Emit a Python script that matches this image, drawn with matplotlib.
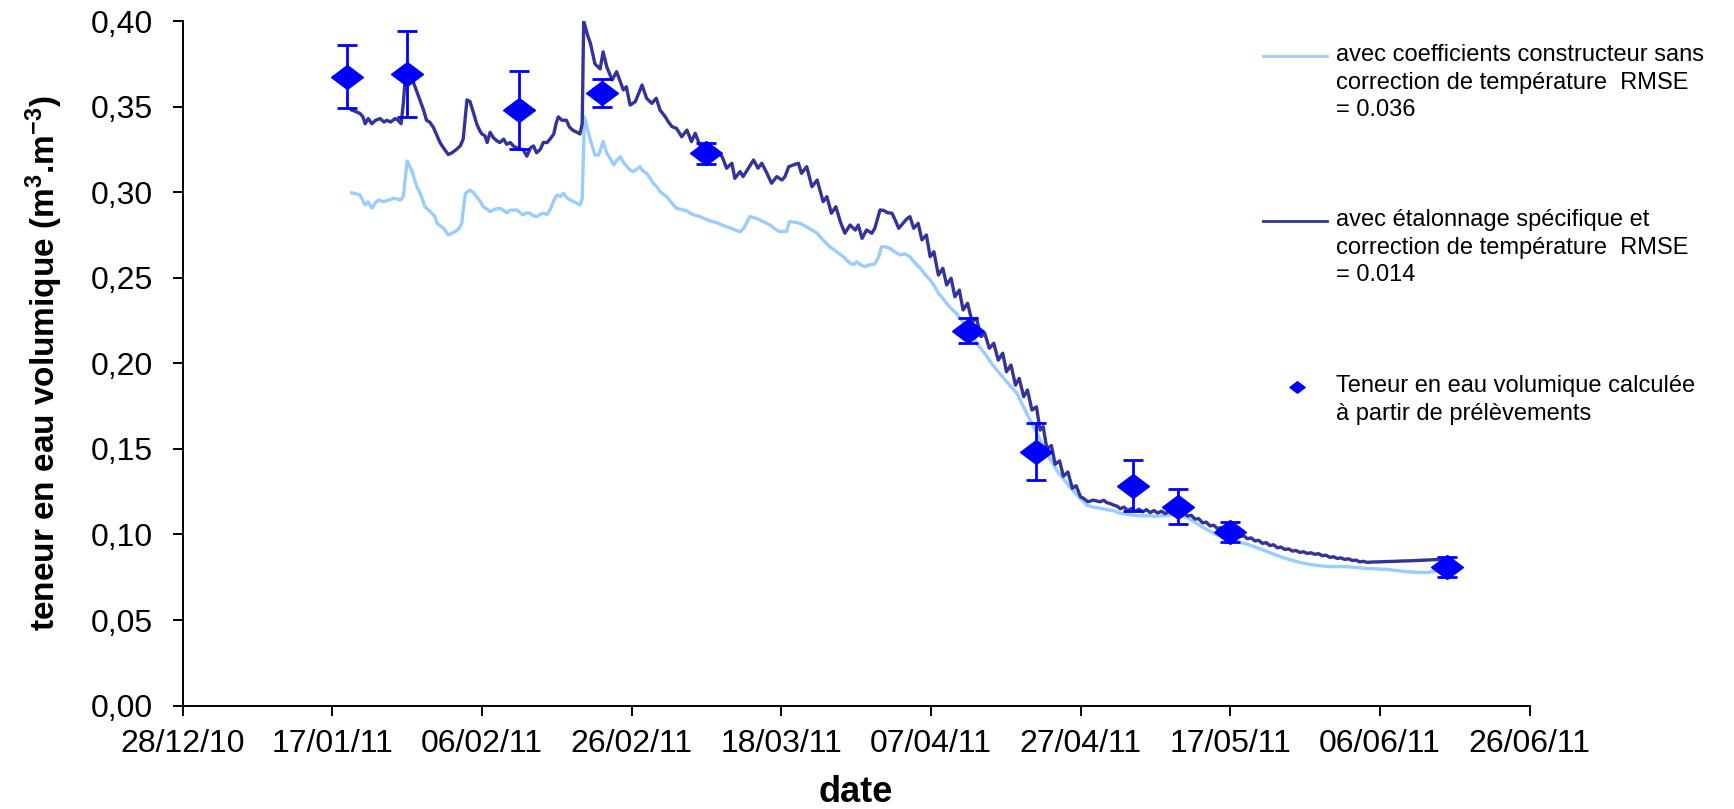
import matplotlib
matplotlib.use("Agg")
import matplotlib.pyplot as plt
import matplotlib.dates as mdates
from matplotlib.lines import Line2D
from matplotlib.ticker import FuncFormatter, FixedLocator
from datetime import datetime
import numpy as np

plt.rcParams['font.family'] = ['Liberation Sans', 'DejaVu Sans']
plt.rcParams['mathtext.fontset'] = 'custom'
plt.rcParams['mathtext.rm'] = 'Liberation Sans'
plt.rcParams['mathtext.bf'] = 'Liberation Sans:bold'

# origine de l'axe des dates
DEBUT = datetime(2010, 12, 28)

# sonde avec coefficients constructeur, sans correction de temperature
# (jours depuis le 28/12/2010, teneur en eau m3/m3)
constructeur = [
    (22.6, .2997), (23.2, .2990), (23.7, .2983), (24.1, .2950), (24.4, .2925),
    (24.8, .2944), (25.3, .2906), (25.8, .2940), (26.2, .2954), (26.8, .2945),
    (27.3, .2950), (27.8, .2958), (28.2, .2964), (28.7, .2960), (29.1, .2954),
    (29.5, .2974), (30.0, .3182), (30.6, .3130), (31.3, .3032), (31.8, .2990),
    (32.4, .2915), (33.3, .2877), (33.7, .2860), (34.0, .2818), (34.9, .2789),
    (35.5, .2750), (36.0, .2760), (36.4, .2769), (36.9, .2785), (37.3, .2818),
    (37.6, .2930), (37.8, .2993), (38.4, .3013), (38.9, .2995), (39.3, .2974),
    (39.8, .2945), (40.2, .2915), (40.7, .2900), (41.1, .2886), (41.7, .2900),
    (42.4, .2906), (42.9, .2892), (43.3, .2880), (43.8, .2895), (44.7, .2896),
    (45.1, .2880), (45.5, .2867), (46.0, .2880), (46.4, .2877), (46.9, .2862),
    (47.3, .2857), (47.8, .2870), (48.2, .2877), (48.7, .2870), (49.1, .2896),
    (49.6, .2950), (50.0, .2983), (50.5, .2975), (50.9, .2993), (51.3, .2970),
    (51.8, .2954), (52.5, .2940), (53.1, .2925), (53.4, .2960), (53.7, .3441),
    (54.1, .3370), (54.5, .3304), (55.1, .3217), (55.6, .3217), (56.2, .3295),
    (56.7, .3227), (57.1, .3200), (57.6, .3159), (58.0, .3185), (58.5, .3207),
    (58.9, .3175), (59.4, .3149), (59.8, .3130), (60.2, .3120), (60.7, .3135),
    (61.1, .3149), (61.5, .3125), (62.0, .3110), (62.5, .3080), (62.9, .3052),
    (63.4, .3030), (63.8, .3003), (64.2, .2990), (64.7, .2974), (65.3, .2940),
    (66.0, .2906), (66.6, .2900), (67.4, .2890), (67.8, .2877), (68.5, .2865),
    (69.2, .2857), (70.1, .2838), (70.9, .2828), (71.5, .2820), (72.1, .2808),
    (72.7, .2798), (73.3, .2790), (73.9, .2778), (74.5, .2769), (75.0, .2790),
    (75.8, .2857), (76.7, .2847), (77.5, .2830), (78.5, .2808), (79.2, .2785),
    (79.8, .2769), (80.3, .2772), (80.7, .2769), (81.1, .2828), (81.8, .2825),
    (82.5, .2818), (83.5, .2795), (84.8, .2760), (85.6, .2720), (86.5, .2681),
    (87.4, .2652), (88.3, .2623), (89.2, .2584), (89.7, .2578), (90.1, .2594),
    (90.6, .2575), (91.2, .2565), (91.8, .2575), (92.5, .2580), (93.0, .2620),
    (93.4, .2681), (94.0, .2680), (94.5, .2672), (95.2, .2650), (95.9, .2633),
    (96.5, .2640), (97.2, .2623), (97.8, .2590), (98.6, .2555), (99.2, .2520),
    (99.9, .2487), (100.5, .2450), (101.0, .2409), (101.5, .2385), (102.1, .2351),
    (102.7, .2320), (103.4, .2292), (104.1, .2250), (104.8, .2214), (105.5, .2165),
    (106.1, .2117), (106.8, .2080), (107.5, .2039), (108.1, .2000), (108.8, .1961),
    (109.5, .1925), (110.1, .1893), (110.8, .1860), (111.5, .1825), (112.1, .1770),
    (112.8, .1708), (113.7, .1630), (114.6, .1552), (115.5, .1474), (116.2, .1420),
    (116.8, .1377), (117.5, .1335), (118.2, .1299), (118.8, .1265), (119.5, .1231),
    (120.2, .1200), (120.8, .1172), (121.7, .1160), (122.6, .1153), (123.5, .1145),
    (124.4, .1138), (125.3, .1124), (126.2, .1118), (127.1, .1112), (128.0, .1108),
    (129.0, .1110), (130.0, .1106), (130.6, .1108), (131.5, .1112), (132.4, .1115),
    (133.3, .1114), (134.4, .1095), (135.5, .1065), (136.6, .1035), (137.8, .1007),
    (138.9, .0985), (140.0, .0968), (141.1, .0955), (142.2, .0944), (143.3, .0927),
    (144.4, .0909), (145.5, .0890), (146.7, .0870), (147.8, .0855), (148.9, .0841),
    (150.0, .0830), (151.1, .0822), (152.2, .0816), (153.3, .0812), (154.4, .0812),
    (155.6, .0812), (156.9, .0807), (158.2, .0802), (159.5, .0799), (160.9, .0796),
    (162.2, .0789), (163.6, .0782), (164.9, .0779), (166.3, .0777), (167.2, .0785),
    (168.0, .0792),
]

# sonde avec etalonnage specifique et correction de temperature
etalonnage = [
    (22.6, .348), (23.2, .347), (23.7, .346), (24.1, .344), (24.4, .340),
    (24.8, .343), (25.3, .340), (25.8, .342), (26.4, .343), (26.9, .341),
    (27.3, .342), (27.8, .341), (28.4, .343), (28.8, .342), (29.2, .340),
    (29.5, .352), (29.7, .3636), (30.3, .366), (30.8, .3646), (31.2, .360),
    (31.7, .354), (32.2, .348), (32.6, .342), (33.0, .341), (33.5, .338),
    (34.0, .333), (34.4, .329), (35.0, .325), (35.5, .322), (36.0, .323),
    (36.6, .325), (37.1, .327), (37.5, .331), (37.8, .345), (38.0, .3539),
    (38.4, .353), (38.9, .346), (39.3, .340), (39.7, .336), (40.0, .334),
    (40.4, .333), (40.7, .329), (41.1, .335), (41.5, .332), (42.0, .330),
    (42.4, .329), (42.9, .331), (43.3, .328), (43.8, .329), (44.2, .327),
    (44.6, .326), (45.1, .325), (45.5, .325), (46.0, .321), (46.5, .326),
    (46.9, .327), (47.3, .323), (47.8, .325), (48.2, .329), (48.7, .329),
    (49.1, .331), (49.6, .334), (49.9, .340), (50.2, .344), (50.7, .342),
    (51.3, .342), (51.7, .338), (52.2, .336), (52.7, .335), (53.1, .334),
    (53.4, .340), (53.6, .400), (54.1, .392), (54.5, .387), (55.1, .375),
    (55.8, .372), (56.2, .382), (56.7, .373), (57.4, .3656), (58.0, .3704),
    (58.9, .3597), (59.3, .3616), (59.8, .3509), (60.5, .3529), (61.4, .3626),
    (62.0, .3549), (62.7, .3519), (63.3, .3549), (63.8, .3480), (64.5, .3441),
    (64.9, .3412), (65.4, .3383), (66.0, .3373), (66.7, .3324), (67.4, .3363),
    (68.0, .3295), (68.5, .3344), (69.2, .3266), (69.8, .3280), (70.5, .3237),
    (71.2, .3250), (72.1, .3207), (72.7, .3140), (73.4, .3169), (73.8, .3081),
    (74.5, .3120), (74.9, .3091), (75.6, .3140), (76.3, .3188), (76.9, .3140),
    (77.4, .3169), (78.1, .3110), (78.7, .3052), (79.4, .3091), (80.1, .3071),
    (80.5, .3091), (81.0, .3149), (81.6, .3159), (82.3, .3169), (82.7, .3110),
    (83.4, .3149), (84.1, .3032), (84.8, .3071), (85.6, .2944), (86.1, .2974),
    (86.7, .2877), (87.3, .2915), (87.9, .2827), (88.5, .2760), (89.2, .2808),
    (89.9, .2779), (90.3, .2808), (90.8, .2730), (91.4, .2779), (92.1, .2760),
    (92.5, .2789), (93.2, .2896), (93.7, .2893), (94.2, .2880), (94.8, .2877),
    (95.2, .2840), (95.7, .2789), (96.3, .2820), (96.8, .2845), (97.2, .2857),
    (97.7, .2789), (98.3, .2818), (98.8, .2721), (99.4, .2750), (99.9, .2623),
    (100.4, .2652), (101.0, .2516), (101.6, .2555), (102.1, .2458), (102.7, .2497),
    (103.2, .2389), (103.8, .2428), (104.3, .2312), (104.9, .2351), (105.5, .2243),
    (106.1, .2262), (106.7, .2156), (107.2, .2175), (107.8, .2088), (108.4, .2117),
    (109.0, .2019), (109.6, .2059), (110.1, .1951), (110.7, .1990), (111.3, .1873),
    (111.8, .1912), (112.4, .1805), (112.9, .1844), (113.5, .1727), (114.1, .1746),
    (114.6, .1610), (115.0, .1630), (115.5, .1500), (116.1, .1520), (116.6, .1410),
    (117.2, .1430), (117.7, .1340), (118.3, .1365), (118.9, .1270), (119.4, .1285),
    (120.0, .1220), (120.4, .1211), (121.0, .1191), (121.7, .1201), (122.2, .1195),
    (122.6, .1191), (123.1, .1200), (123.5, .1186), (124.0, .1180), (124.4, .1172),
    (124.9, .1165), (125.3, .1150), (125.8, .1160), (126.3, .1140), (126.8, .1152),
    (127.3, .1135), (127.8, .1148), (128.3, .1132), (128.8, .1145), (129.3, .1128),
    (129.8, .1140), (130.3, .1125), (130.8, .1136), (131.3, .1122), (131.8, .1134),
    (132.3, .1120), (132.8, .1130), (133.3, .1118), (133.8, .1125), (134.3, .1108),
    (134.8, .1112), (135.3, .1090), (135.8, .1092), (136.3, .1068), (136.8, .1072),
    (137.3, .1050), (137.8, .1054), (138.3, .1034), (138.8, .1040), (139.3, .1018),
    (139.8, .1022), (140.3, .1002), (140.8, .1008), (141.3, .0988), (141.8, .0992),
    (142.3, .0975), (142.8, .0980), (143.3, .0962), (143.8, .0966), (144.3, .0948),
    (144.8, .0952), (145.3, .0935), (145.8, .0940), (146.3, .0922), (146.8, .0926),
    (147.3, .0912), (147.8, .0916), (148.3, .0903), (148.8, .0906), (149.3, .0895),
    (149.8, .0899), (150.3, .0889), (150.8, .0893), (151.3, .0884), (151.8, .0888),
    (152.3, .0876), (152.8, .0879), (153.3, .0866), (153.8, .0870), (154.3, .0860),
    (154.8, .0863), (155.3, .0854), (155.8, .0858), (156.3, .0848), (156.8, .0850),
    (157.3, .0840), (157.8, .0843), (158.3, .0837), (159.0, .0839), (160.0, .0840),
    (161.0, .0842), (162.0, .0843), (163.0, .0845), (164.0, .0846), (165.0, .0848),
    (166.0, .0850), (167.0, .0852), (168.0, .0854), (169.0, .0855),
]

# teneurs en eau mesurees sur prelevements, avec ecart-type
dates_prel = ["2011-01-19", "2011-01-27", "2011-02-11", "2011-02-22", "2011-03-08",
              "2011-04-12", "2011-04-21", "2011-05-04", "2011-05-10", "2011-05-17",
              "2011-06-15"]
teneur_prel = [0.3675, 0.369, 0.348, 0.358, 0.3227, 0.2189, 0.1484, 0.1285,
               0.1163, 0.1016, 0.081]
ecart_prel = [0.0185, 0.025, 0.023, 0.008, 0.006, 0.0073, 0.0166, 0.015,
              0.0104, 0.0058, 0.006]

labels = [
    "avec coefficients constructeur sans\ncorrection de température  RMSE\n= 0.036",
    "avec étalonnage spécifique et\ncorrection de température  RMSE\n= 0.014",
    "Teneur en eau volumique calculée\nà partir de prélèvements",
]

CLAIR = "#99CCFF"
FONCE = "#333399"
BLEU = "#0000FF"
losange = [(-1, 0), (0, 0.75), (1, 0), (0, -0.75), (-1, 0)]

t0 = mdates.date2num(DEBUT)
jc, vc = np.array(constructeur).T
je, ve = np.array(etalonnage).T
xp = [mdates.date2num(datetime.strptime(d, "%Y-%m-%d")) for d in dates_prel]

fig = plt.figure(figsize=(17.34, 8.09), dpi=100)
ax = fig.add_axes([0.1053, 0.1278, 0.7768, 0.8462])

ax.plot(t0 + jc, vc, color=CLAIR, lw=2.4, zorder=2)
ax.plot(t0 + je, ve, color=FONCE, lw=2.4, zorder=3)
ax.errorbar(xp, teneur_prel, yerr=ecart_prel, fmt='none', ecolor=BLEU,
            elinewidth=2.0, capsize=7, capthick=2.0, zorder=4)
ax.plot(xp, teneur_prel, linestyle='none', marker=losange, markersize=23,
        color=BLEU, zorder=5)

ticks_x = [t0 + 20 * k for k in range(10)]
ax.set_xlim(ticks_x[0], ticks_x[-1])
ax.xaxis.set_major_locator(FixedLocator(ticks_x))
ax.xaxis.set_major_formatter(mdates.DateFormatter("%d/%m/%y"))
ax.set_ylim(0, 0.40)
ax.set_yticks(np.arange(0, 0.401, 0.05))
ax.yaxis.set_major_formatter(FuncFormatter(lambda v, p: f"{v:.2f}".replace(".", ",")))

for s in ['top', 'right']:
    ax.spines[s].set_visible(False)
for s in ['left', 'bottom']:
    ax.spines[s].set_linewidth(1.4)
ax.tick_params(axis='both', direction='out', length=7.5, width=1.4, labelsize=23)
ax.tick_params(axis='y', pad=14)
ax.tick_params(axis='x', pad=9)

ax.set_xlabel("date", fontsize=26, fontweight='bold', labelpad=12)
ax.set_ylabel(r"teneur en eau volumique (m$\mathbf{^{3}}$.m$\mathbf{^{-3}}$)",
              fontsize=24, fontweight='bold', labelpad=18)

# legende dessinee a la main, a droite du graphique
X0, X1 = 0.7284, 0.7653
fig.add_artist(Line2D([X0, X1], [0.9308, 0.9308], color=CLAIR, lw=2.0))
fig.add_artist(Line2D([X0, X1], [0.7268, 0.7268], color=FONCE, lw=2.0))
fig.add_artist(Line2D([0.7478], [0.5216], linestyle='none', marker=losange,
                      markersize=11, color=BLEU))
for y, txt in zip([0.898, 0.694, 0.5056], labels):
    fig.text(0.7705, y, txt, fontsize=17, va='center', ha='left', linespacing=1.32)

fig.savefig("out.png", dpi=100)
